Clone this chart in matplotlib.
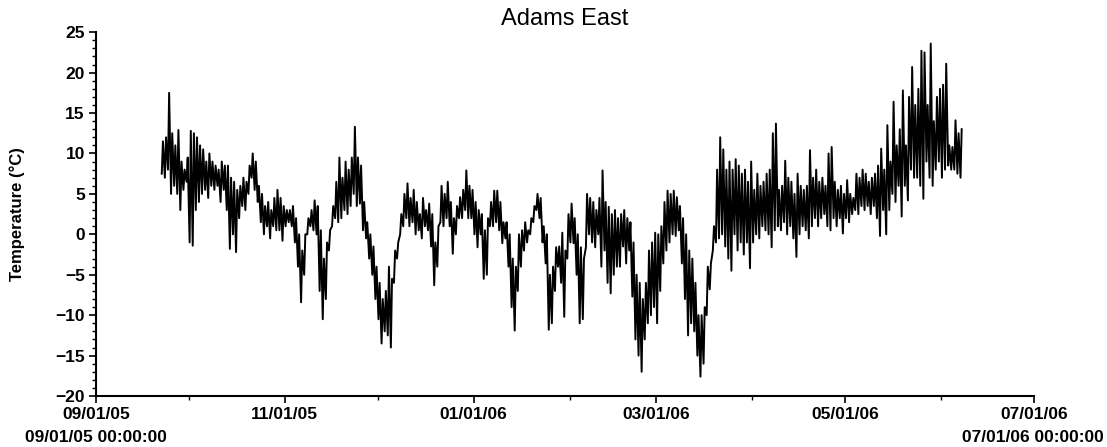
import matplotlib
matplotlib.use("Agg")
import matplotlib.pyplot as plt
import matplotlib.dates as mdates
from matplotlib.ticker import MultipleLocator
import numpy as np
import pandas as pd

# daily low / high water temperature (degC), one entry per day from 2005-09-22
start_date = "2005-09-22"
low_c = [
    7.5, 7, 8, 5, 6, 5, 3, 5.5, 6.5, -1,
    -1.4, 3, 4, 5, 5.5, 4.5, 6, 5.5, 6, 4,
    5.5, 3, -1.8, 0, -2.2, 2, 3.5, 3, 5, 7,
    5.5, 4, 1.5, 0, 1, -0.5, 1, 0.5, 0.5, -0.8,
    1, 1.5, 1, -1, -4, -8.4, -5, 0, 1, 0.5,
    0, -7, -10.5, -8, -2, 1, 2, 1.5, 2, 3,
    2.5, 3.5, 5, 3.5, 3.8, 0.5, -0.5, -3, -5, -8,
    -10.5, -13.5, -12, -12.5, -14, -6, -3, 0, 1, 2,
    1, 1.5, 0, 0.5, -0.5, 1, 0.5, -1.5, -6.3, -4,
    1.5, 1, 2, 1, -2.4, 0, 2, 2, 3, 2,
    2, 0, -1.6, 0, -5.5, -5, 1, 1, 1.5, 0.5,
    -1.1, -0.5, -4, -9, -11.9, -7, -4, -2, -1, 0,
    1.5, 3, 2, -1, -3.6, -11.8, -11, -7, -4, -6,
    -10.2, -3, -1, -1.1, -5, -11, -10.5, -1.6, 0, -1,
    -1.6, 0, -4, -2, -6, -7.3, -5, -4, -4, -1.5,
    -3.6, -2, -7.7, -13, -15, -17, -13, -11, -10, -9,
    -11, -7, -3.6, -2, -1, 0, -0.2, 0.5, -3.6, -8,
    -12.5, -11, -12, -15, -17.6, -16, -10, -6.8, -2, -1,
    -0.5, 0, -1.5, -3, -4.5, 0, -2, -1, -2.5, -1,
    -4.2, -1, 0, -0.5, 1, 0.5, 0, -1.6, 0.5, 1,
    0.5, 1.5, 0, 1, -0.5, -2.8, 0, 1, 0.5, -0.5,
    1, 2, 1, 2, 2.5, 1, 0.5, 2, 1, 2,
    0.1, 2, 1.5, 2.5, 3, 2.5, 3.5, 3, 3.5, 2.5,
    3.5, 2, -0.2, 3, 0, 3, 5, 4, 6, 2.2,
    6, 4.2, 8, 7, 7, 6, 4.4, 9, 7, 6,
    8, 9, 7, 8, 8.5, 8, 8, 7.5, 7,
]
high_c = [
    11.5, 12, 17.5, 12.5, 11, 12.9, 9, 8, 9.5, 12.8,
    12.5, 12, 11, 10.5, 9, 10, 9, 8.5, 8, 9,
    8.5, 8.5, 7, 6.5, 5.5, 6, 7, 6.5, 8.5, 10,
    9, 6, 5, 3.5, 4, 3, 4.5, 5.5, 4.5, 3.5,
    3, 3, 3.5, 2, 0, -2, 0, 2, 3, 4.2,
    3.5, 0.5, -3, -1, 0.5, 3.5, 6.5, 9.5, 7, 9,
    8, 9.5, 13.3, 9.5, 8.5, 4, 1.5, 0, -1.5, -4,
    -6, -8, -7, -4, -5.5, -2, -1, 2.5, 5, 6.3,
    4.5, 5.5, 4, 2.5, 4.5, 3, 3.8, 2.5, -1, 1,
    6, 5, 6.5, 4, 2, 3.5, 4.6, 5.5, 7.9, 6,
    5.5, 4, 3, 2.5, 0.5, 2, 4, 5.4, 5.4, 4,
    1.5, 1.5, 0, -3, -4, 0, 0.5, 1.5, 0.5, 2,
    3.5, 5, 4.5, 1, 0, -5, -4, -1.6, -1.5, 0.2,
    -2, 2.5, 3.8, 2, 0, -1.6, -3, 5, 4.5, 4,
    3, 4.5, 7.9, 4, 3.4, 2.5, 3, 2, 2.5, 3,
    2, 1.5, -1, -5, -6, -8, -6, -2, -1, 0.2,
    0, 1, 4, 5.4, 5, 5.4, 4.6, 3.5, 2, 0,
    -2, -3, -6, -10, -10, -9, -4, -3.6, 1, 8,
    12, 10.5, 8, 9, 8, 9.3, 8.5, 7.5, 8, 6.5,
    9, 5.5, 7.5, 6, 6.5, 7.5, 8, 12.5, 13.7, 5.5,
    6, 9.1, 7, 6.5, 5, 7.5, 6, 5.5, 6, 10.4,
    7, 8, 6.5, 7, 6, 10, 10.8, 6.5, 5.5, 6,
    5, 6.7, 5, 4.5, 7.5, 7, 8, 7.5, 6.5, 7,
    7.5, 8.5, 10.6, 8, 13.5, 9, 16.4, 11, 13, 17.8,
    11, 17, 20.7, 16, 18, 22.7, 22.5, 16, 23.6, 14,
    17, 18, 18.5, 21.1, 11, 10.8, 14.1, 12.5, 13,
]

days = pd.date_range(start_date, periods=len(low_c), freq="D")
lo = pd.Series(low_c, index=days + pd.Timedelta(hours=6))
hi = pd.Series(high_c, index=days + pd.Timedelta(hours=15))
series = pd.concat([lo, hi]).sort_index()

plt.rcParams["font.family"] = ["Liberation Sans", "DejaVu Sans"]

fig = plt.figure(figsize=(11.07, 4.47), dpi=100)
ax = fig.add_axes([0.0867, 0.114, 0.8474, 0.814])
ax.plot(series.index, series.values, color="black", lw=1.4)

ax.set_xlim(pd.Timestamp("2005-09-01"), pd.Timestamp("2006-07-01"))
ax.set_ylim(-20, 25)
ax.xaxis.set_major_locator(mdates.MonthLocator(bymonth=[1, 3, 5, 7, 9, 11]))
ax.xaxis.set_minor_locator(mdates.MonthLocator(bymonth=[2, 4, 6, 8, 10, 12]))
ax.xaxis.set_major_formatter(mdates.DateFormatter("%m/%d/%y"))
ax.yaxis.set_major_locator(MultipleLocator(5))
ax.yaxis.set_minor_locator(MultipleLocator(1))

for s in ["top", "right"]:
    ax.spines[s].set_visible(False)
for s in ["left", "bottom"]:
    ax.spines[s].set_linewidth(1.5)
ax.tick_params(which="major", length=5, width=1.2, labelsize=12.5, pad=3)
ax.tick_params(which="minor", length=3, width=1)
for lab in ax.get_xticklabels() + ax.get_yticklabels():
    lab.set_fontweight("bold")

fig.text(17 / 1107, 0.5 + (0.114 + 0.928) / 2 - 0.5, "Temperature (°C)", fontsize=12,
         fontweight="bold", rotation=90, ha="center", va="center")
ax.set_title("Adams East", fontsize=17, pad=5)

fig.text(25 / 1107, 0.022, "09/01/05 00:00:00", fontsize=12.5, fontweight="bold",
         ha="left", va="center")
fig.text(1104 / 1107, 0.022, "07/01/06 00:00:00", fontsize=12.5, fontweight="bold",
         ha="right", va="center")

fig.savefig("out.png", dpi=100)
